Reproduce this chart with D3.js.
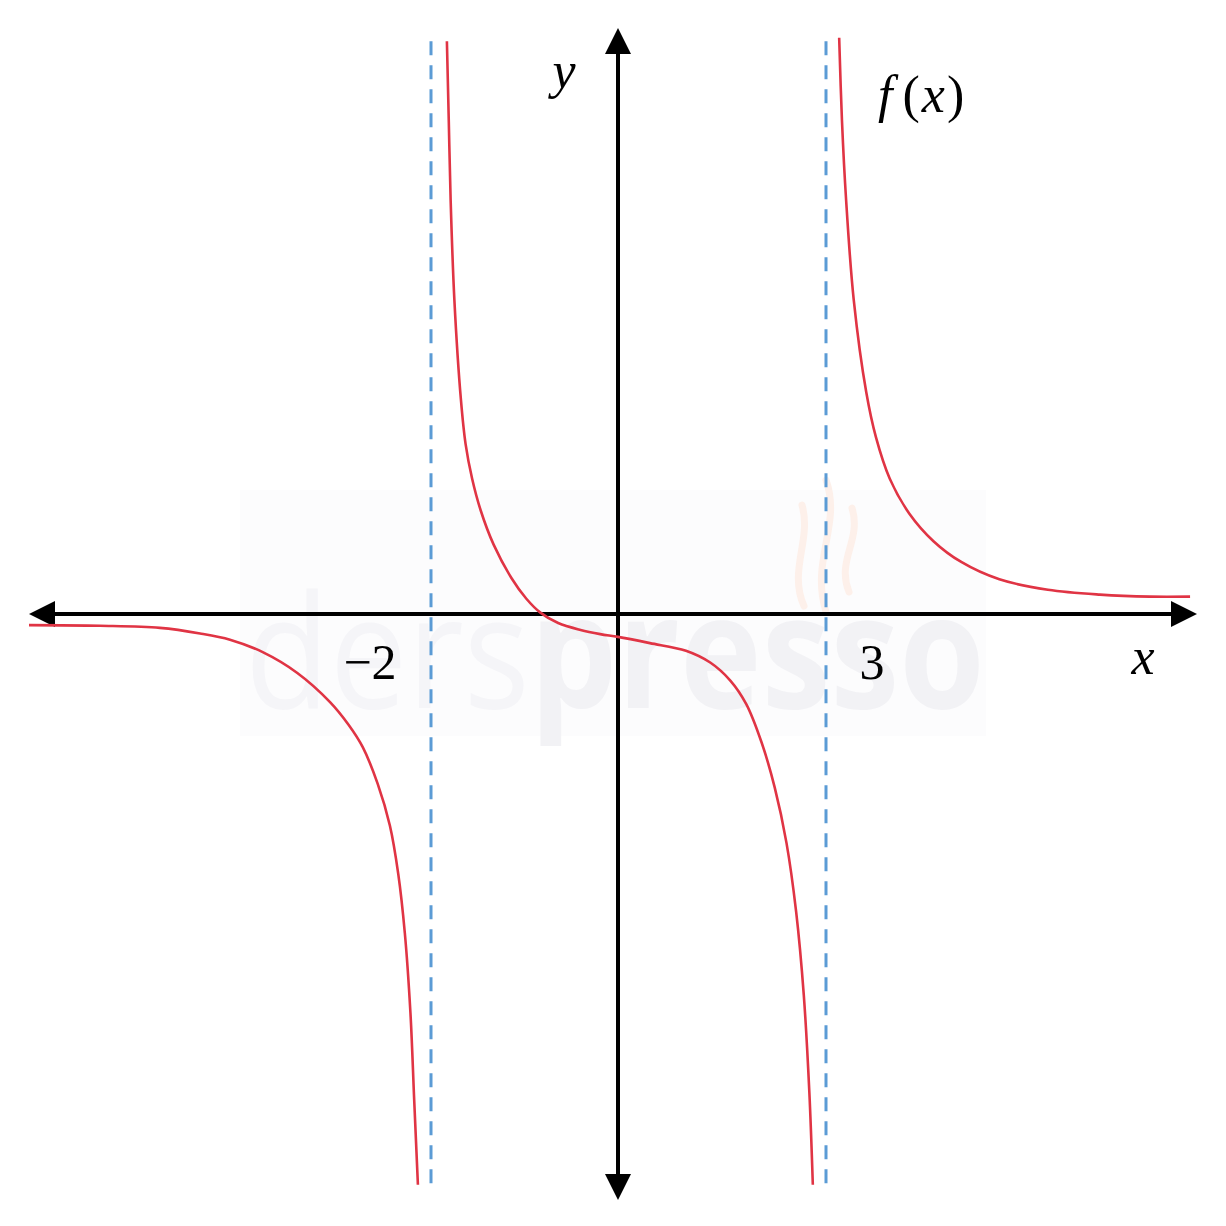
<!DOCTYPE html>
<html>
<head>
<meta charset="utf-8">
<script src="https://cdn.jsdelivr.net/npm/d3@7"></script>
<style>
  body { margin: 0; background: #fff; }
  svg { display: block; }
  .math { font-family: "Liberation Serif", "DejaVu Serif", serif; fill: #000; }
</style>
</head>
<body>
<svg id="chart" width="1226" height="1226"></svg>
<script>
// vertical asymptotes and their labels
const asymptotes = [-2, 3];
const tickLabels = ['\u22122', '3'];

// f(x), one array per branch: [x, y]
const branchLeft = [
  [-6.30, -0.16], [-5.54, -0.17], [-4.90, -0.20], [-4.47, -0.28], [-4.15, -0.37],
  [-3.80, -0.55], [-3.43, -0.85], [-3.08, -1.27], [-2.88, -1.60], [-2.73, -1.92],
  [-2.57, -2.45], [-2.44, -3.05], [-2.35, -3.75], [-2.28, -4.60], [-2.22, -5.75],
  [-2.18, -7.00], [-2.14, -8.23]
];
const branchMiddle = [
  [-1.83, 8.26], [-1.81, 7.12], [-1.79, 5.97], [-1.75, 4.53], [-1.68, 3.09],
  [-1.63, 2.45], [-1.56, 1.95], [-1.47, 1.50], [-1.33, 1.00], [-1.14, 0.52],
  [-0.98, 0.22], [-0.83, 0.02], [-0.64, -0.13], [-0.40, -0.23], [-0.19, -0.29],
  [0.00, -0.33], [0.46, -0.42], [0.98, -0.53], [1.33, -0.70], [1.62, -0.96],
  [1.85, -1.30], [2.07, -1.85], [2.26, -2.50], [2.43, -3.30], [2.57, -4.30],
  [2.68, -5.50], [2.76, -6.90], [2.81, -8.23]
];
const branchRight = [
  [3.19, 8.31], [3.23, 7.12], [3.29, 5.97], [3.40, 4.53], [3.58, 3.20],
  [3.72, 2.55], [3.92, 1.95], [4.20, 1.45], [4.55, 1.05], [4.95, 0.75],
  [5.50, 0.50], [6.20, 0.35], [6.95, 0.28], [7.67, 0.25], [8.25, 0.25]
];
const asymptoteSpan = [-8.23, 8.26];
const xDomain = [-6.3, 8.35];
const yDomain = [-8.45, 8.45];

const svg = d3.select('#chart');

// the sketch is not to scale: -2 and 3 sit at different unit widths
const x = d3.scaleLinear()
  .domain([xDomain[0], -2, 0, 3, xDomain[1]])
  .range([29, 431, 618, 826, 1197]);
const y = d3.scaleLinear().domain(yDomain).range([1200, 28]);

// watermark
const wm = svg.append('g').attr('class', 'watermark');
wm.append('rect')
  .attr('x', 240).attr('y', 490).attr('width', 746).attr('height', 246)
  .attr('fill', '#fcfcfd');
const wmText = wm.append('text')
  .attr('x', 245).attr('y', 708)
  .attr('font-family', '"Open Sans", sans-serif')
  .attr('font-size', 158)
  .attr('textLength', 740)
  .attr('lengthAdjust', 'spacingAndGlyphs');
wmText.append('tspan').attr('fill', '#f5f5f8').text('ders');
wmText.append('tspan').attr('fill', '#f2f2f5').attr('font-weight', 700).text('presso');
const steam = ['M804,606 C788,570 812,540 802,505', 'M826,612 C810,560 842,525 826,480',
  'M849,592 C836,560 862,540 852,508'];
wm.selectAll('path.steam').data(steam).enter().append('path')
  .attr('class', 'steam')
  .attr('d', d => d)
  .attr('fill', 'none')
  .attr('stroke', '#fdf0ea')
  .attr('stroke-width', 7)
  .attr('stroke-linecap', 'round');

// asymptotes
svg.append('g').selectAll('line')
  .data(asymptotes)
  .enter().append('line')
  .attr('x1', d => x(d)).attr('x2', d => x(d))
  .attr('y1', y(asymptoteSpan[1])).attr('y2', y(asymptoteSpan[0]))
  .attr('stroke', '#5b9bd5')
  .attr('stroke-width', 3)
  .attr('stroke-dasharray', '14,10');

// axes with arrowheads
const axes = svg.append('g').attr('class', 'axes');
const head = 26;
axes.append('line')
  .attr('x1', x(xDomain[0]) + head).attr('x2', x(xDomain[1]) - head)
  .attr('y1', y(0)).attr('y2', y(0))
  .attr('stroke', '#000').attr('stroke-width', 4);
axes.append('line')
  .attr('x1', x(0)).attr('x2', x(0))
  .attr('y1', y(yDomain[1]) + head).attr('y2', y(yDomain[0]) - head)
  .attr('stroke', '#000').attr('stroke-width', 4);

const arrows = [
  [[x(xDomain[0]), y(0)], [x(xDomain[0]) + head, y(0) - 13], [x(xDomain[0]) + head, y(0) + 13]],
  [[x(xDomain[1]), y(0)], [x(xDomain[1]) - head, y(0) - 13], [x(xDomain[1]) - head, y(0) + 13]],
  [[x(0), y(yDomain[1])], [x(0) - 13, y(yDomain[1]) + head], [x(0) + 13, y(yDomain[1]) + head]],
  [[x(0), y(yDomain[0])], [x(0) - 13, y(yDomain[0]) - head], [x(0) + 13, y(yDomain[0]) - head]]
];
axes.selectAll('path')
  .data(arrows)
  .enter().append('path')
  .attr('d', d => `M${d.join('L')}Z`)
  .attr('fill', '#000');

// the function
const line = d3.line()
  .x(d => x(d[0]))
  .y(d => y(d[1]))
  .curve(d3.curveCatmullRom.alpha(0.5));

svg.append('g').selectAll('path')
  .data([branchLeft, branchMiddle, branchRight])
  .enter().append('path')
  .attr('d', line)
  .attr('fill', 'none')
  .attr('stroke', '#e03444')
  .attr('stroke-width', 2.6);

// labels
svg.append('g').selectAll('text')
  .data(asymptotes)
  .enter().append('text')
  .attr('class', 'math')
  .attr('x', (d, i) => x(d) + (i === 0 ? -61 : 46))
  .attr('y', y(0) + 65)
  .attr('text-anchor', 'middle')
  .attr('font-size', 50)
  .text((d, i) => tickLabels[i]);

svg.append('text')
  .attr('class', 'math')
  .attr('x', x(xDomain[1]) - 54).attr('y', y(0) + 60)
  .attr('text-anchor', 'middle')
  .attr('font-size', 52)
  .attr('font-style', 'italic')
  .text('x');

svg.append('text')
  .attr('class', 'math')
  .attr('x', x(0) - 54).attr('y', 88)
  .attr('text-anchor', 'middle')
  .attr('font-size', 52)
  .attr('font-style', 'italic')
  .text('y');

const fx = svg.append('text')
  .attr('class', 'math')
  .attr('x', 878).attr('y', 112)
  .attr('font-size', 52);
fx.append('tspan').attr('font-style', 'italic').text('f');
fx.append('tspan').attr('dx', 10).text('(');
fx.append('tspan').attr('dx', 2).attr('font-style', 'italic').text('x');
fx.append('tspan').attr('dx', 2).text(')');
</script>
</body>
</html>
